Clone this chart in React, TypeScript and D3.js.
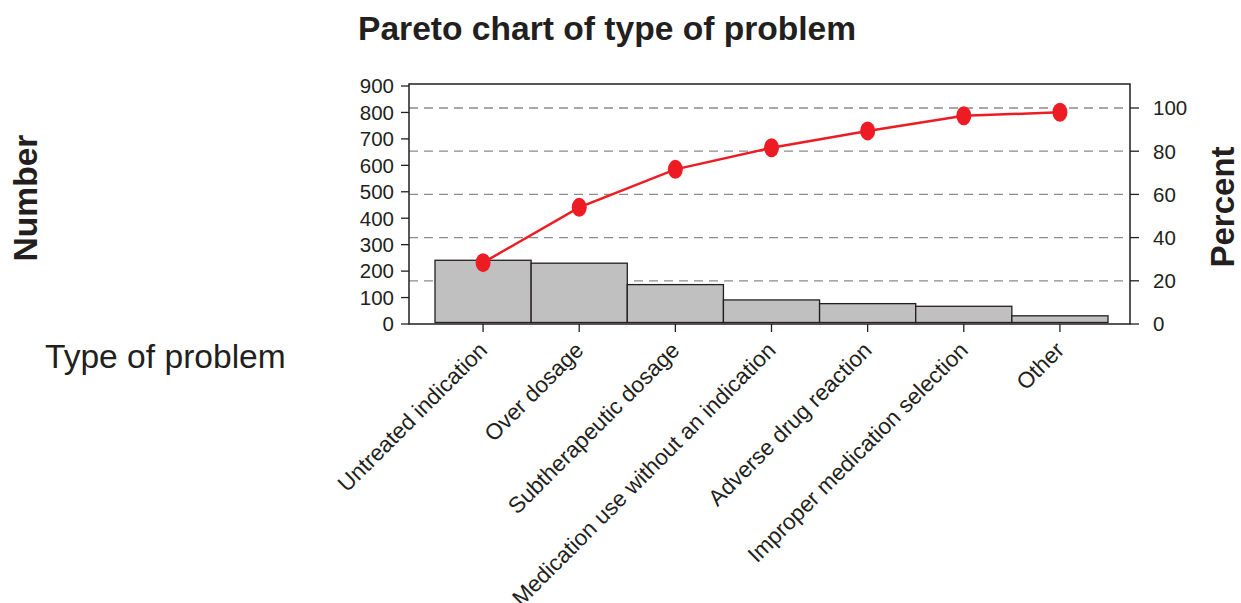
import * as d3 from "d3";

const categories = [
  "Untreated indication",
  "Over dosage",
  "Subtherapeutic dosage",
  "Medication use without an indication",
  "Adverse drug reaction",
  "Improper medication selection",
  "Other",
];
const counts = [241, 230, 149, 91, 77, 67, 31];
const cumulativePercent = [28.4, 54, 71.6, 81.6, 89.4, 96.4, 98];
const countTicks = [0, 100, 200, 300, 400, 500, 600, 700, 800, 900];
const percentTicks = [0, 20, 40, 60, 80, 100];

const W = 1241;
const H = 603;
const font = "'Liberation Sans', Arial, sans-serif";

export default function App() {
  const left = 409;
  const right = 1130;
  const top = 84;
  const bottom = 324;

  const x = d3.scaleBand<string>().domain(categories).range([435, 1108]).padding(0);
  const yL = d3.scaleLinear().domain([0, 900]).range([bottom, 86]);
  const yR = d3.scaleLinear().domain([0, 100]).range([bottom, 108]);
  const cx = (c: string) => (x(c) ?? 0) + x.bandwidth() / 2;

  const line = d3
    .line<number>()
    .x((_, i) => cx(categories[i]))
    .y((d) => yR(d));

  return (
    <svg width={W} height={H} style={{ display: "block", position: "absolute", left: 0, top: 0 }}>
      <rect width={W} height={H} fill="#fff" />
      <text x={358} y={40} fontFamily={font} fontWeight="bold" fontSize={33.6} fill="#231f20">
        Pareto chart of type of problem
      </text>

      {/* grid */}
      {percentTicks
        .filter((t) => t > 0)
        .map((t) => (
          <line key={t} x1={left} x2={right - 4} y1={yR(t)} y2={yR(t)} stroke="#8c8c8c" strokeWidth={1.3} strokeDasharray="9,6" />
        ))}

      {/* bars */}
      {counts.map((v, i) => (
        <rect
          key={i}
          x={x(categories[i])}
          y={yL(v)}
          width={x.bandwidth()}
          height={bottom - 1.5 - yL(v)}
          fill="#c0c0c0"
          stroke="#231f20"
          strokeWidth={1.3}
        />
      ))}

      {/* frame */}
      <path d={`M${left},${bottom}V${top}H${right}V${bottom}Z`} fill="none" stroke="#231f20" strokeWidth={1.5} />

      {/* left axis */}
      {countTicks.map((t) => (
        <g key={t}>
          <line x1={left - 8} x2={left} y1={yL(t)} y2={yL(t)} stroke="#231f20" strokeWidth={1.3} />
          <text x={394} y={yL(t)} dy="0.36em" textAnchor="end" fontFamily={font} fontSize={20.5} fill="#231f20">
            {t}
          </text>
        </g>
      ))}

      {/* right axis */}
      {percentTicks.map((t) => (
        <g key={t}>
          <line x1={right} x2={right + 9} y1={yR(t)} y2={yR(t)} stroke="#231f20" strokeWidth={1.3} />
          <text x={1153} y={yR(t)} dy="0.36em" fontFamily={font} fontSize={20.5} fill="#231f20">
            {t}
          </text>
        </g>
      ))}

      {/* bottom ticks and labels */}
      {categories.map((c) => (
        <g key={c}>
          <line x1={cx(c)} x2={cx(c)} y1={bottom} y2={bottom + 8} stroke="#231f20" strokeWidth={1.3} />
          <text
            transform={`translate(${cx(c)},${bottom + 22}) rotate(-45)`}
            textAnchor="end"
            dy="0.35em"
            fontFamily={font}
            fontSize={22.5}
            fill="#231f20"
          >
            {c}
          </text>
        </g>
      ))}

      {/* cumulative line */}
      <path d={line(cumulativePercent) ?? ""} fill="none" stroke="#ed1c24" strokeWidth={2.5} />
      {cumulativePercent.map((p, i) => (
        <ellipse key={i} cx={cx(categories[i])} cy={yR(p)} rx={7.5} ry={9.5} fill="#ed1c24" />
      ))}

      {/* axis titles */}
      <text transform="translate(37,198) rotate(-90)" textAnchor="middle" fontFamily={font} fontWeight="bold" fontSize={33.6} fill="#231f20">
        Number
      </text>
      <text transform="translate(1234,207) rotate(-90)" textAnchor="middle" fontFamily={font} fontWeight="bold" fontSize={33} fill="#231f20">
        Percent
      </text>
      <text x={45} y={368} fontFamily={font} fontSize={33.6} fill="#231f20">
        Type of problem
      </text>
    </svg>
  );
}
